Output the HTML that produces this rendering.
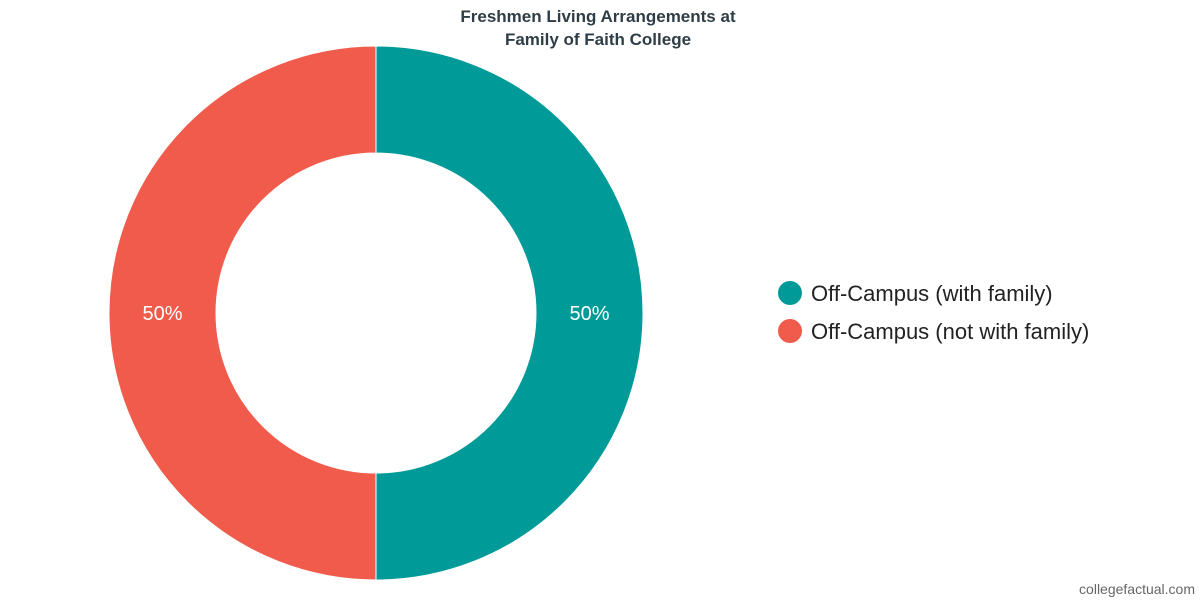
<!DOCTYPE html>
<html><head><meta charset="utf-8"><style>
html,body{margin:0;padding:0;background:#fff;width:1200px;height:600px;overflow:hidden;font-family:"Liberation Sans",sans-serif}
</style></head><body>
<svg id="chart" width="1200" height="600" viewBox="0 0 1200 600">
<text x="598" y="22" text-anchor="middle" font-size="17" font-weight="bold" fill="#2f3e46">Freshmen Living Arrangements at</text>
<text x="598" y="45" text-anchor="middle" font-size="17" font-weight="bold" fill="#2f3e46">Family of Faith College</text>
<g id="slices"></g>
<g id="legend"></g>
<text x="1195" y="594" text-anchor="end" font-size="14" fill="#666">collegefactual.com</text>
</svg>
<script>
const categories = ["Off-Campus (with family)", "Off-Campus (not with family)"];
const values = [50, 50];
const labels = ["50%", "50%"];
const colors = ["#009a98", "#f05b4b"];
const cx = 376, cy = 313, R = 267, r = 160;
const ns = "http://www.w3.org/2000/svg";
const total = values.reduce((a,b)=>a+b,0);
const g = document.getElementById("slices");
const lg = document.getElementById("legend");
let a0 = 0;
function pt(rad, ang){return [cx + rad*Math.sin(ang), cy - rad*Math.cos(ang)];}
values.forEach((v,i)=>{
  const a1 = a0 + v/total*2*Math.PI;
  const large = (a1-a0) > Math.PI ? 1 : 0;
  const [x0,y0]=pt(R,a0),[x1,y1]=pt(R,a1),[x2,y2]=pt(r,a1),[x3,y3]=pt(r,a0);
  const p = document.createElementNS(ns,"path");
  p.setAttribute("d",`M${x0},${y0} A${R},${R} 0 ${large} 1 ${x1},${y1} L${x2},${y2} A${r},${r} 0 ${large} 0 ${x3},${y3} Z`);
  p.setAttribute("fill",colors[i]);
  p.setAttribute("stroke","#fff");
  p.setAttribute("stroke-width","1");
  
  
  g.appendChild(p);
  const mid=(a0+a1)/2, [lx,ly]=pt((R+r)/2,mid);
  const t=document.createElementNS(ns,"text");
  t.setAttribute("x",lx); t.setAttribute("y",ly+7);
  t.setAttribute("text-anchor","middle"); t.setAttribute("font-size","20"); t.setAttribute("fill","#fff");
  t.textContent=labels[i];
  
  
  g.appendChild(t);
  const c=document.createElementNS(ns,"circle");
  c.setAttribute("cx",790); c.setAttribute("cy",293+i*38); c.setAttribute("r",12); c.setAttribute("fill",colors[i]);
  
  
  lg.appendChild(c);
  const lt=document.createElementNS(ns,"text");
  lt.setAttribute("x",811); lt.setAttribute("y",301+i*38); lt.setAttribute("font-size","22"); lt.setAttribute("fill","#222");
  lt.textContent=categories[i];
  
  
  lg.appendChild(lt);
  a0=a1;
});
</script>
</body></html>
